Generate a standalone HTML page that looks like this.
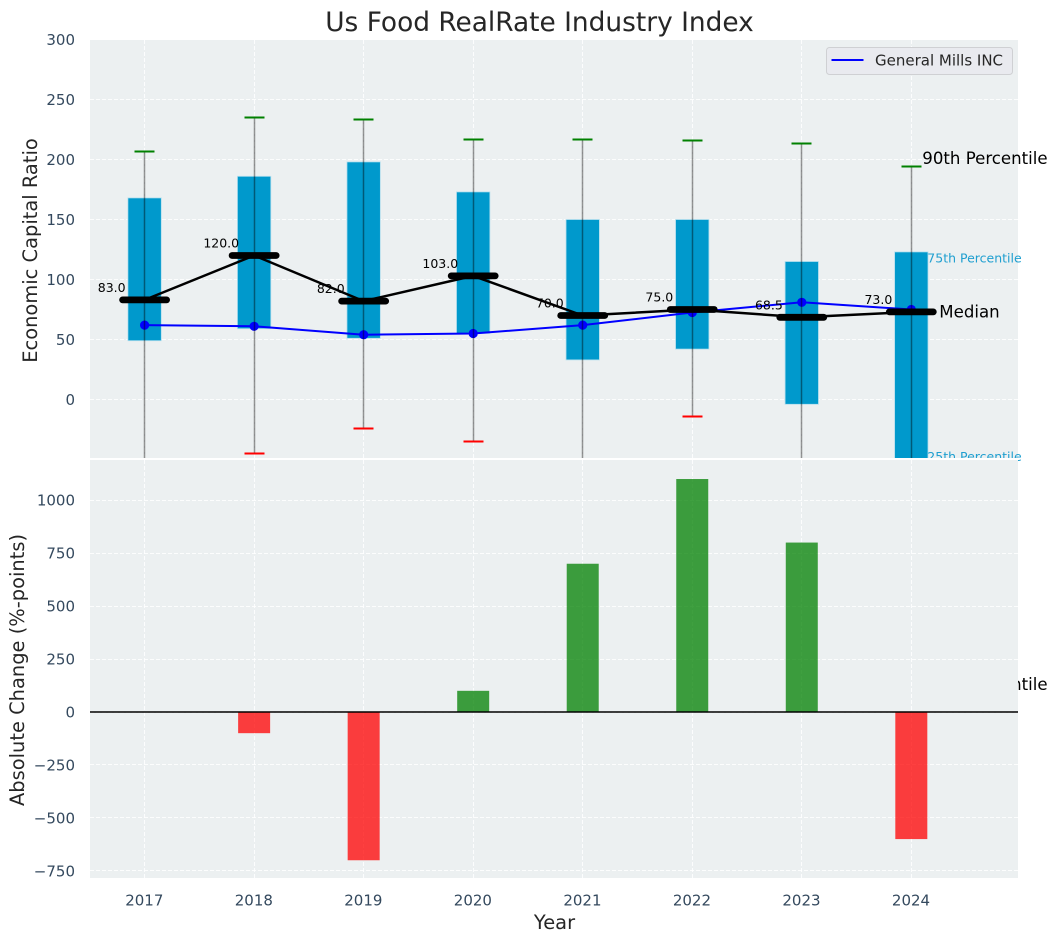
<!DOCTYPE html>
<html lang="en">
<head>
<meta charset="utf-8">
<title>Us Food RealRate Industry Index</title>
<style>
html,body{margin:0;padding:0;background:#fff;width:1057px;height:942px;overflow:hidden}
svg{display:block;font-family:"DejaVu Sans","Liberation Sans",sans-serif}
</style>
</head>
<body>
<svg id="chart" xmlns="http://www.w3.org/2000/svg" width="1057" height="942" viewBox="0 0 1057 942">
  <defs>
    <clipPath id="top-clip"><rect x="90" y="40" width="928" height="418"></rect></clipPath>
    <clipPath id="bottom-clip"><rect x="90" y="460" width="928" height="418"></rect></clipPath>
  </defs>
  <text x="539.5" y="31" text-anchor="middle" font-size="26.4" fill="#262626">Us Food RealRate Industry Index</text>
  <rect x="90" y="40" width="928" height="418" fill="#ecf0f1"></rect>
  <g id="top-grid" clip-path="url(#top-clip)"></g>
  <g id="top-marks" clip-path="url(#top-clip)"></g>
  <g id="top-labels"></g>
  <g>
    <rect x="826.5" y="47.5" width="186" height="27" rx="3" fill="#e9eaef" stroke="#cfd0d3" stroke-width="1"></rect>
    <line x1="831.5" x2="863.5" y1="60" y2="60" stroke="#0000ff" stroke-width="2"></line>
    <text x="875" y="65.5" font-size="15" fill="#262626">General Mills INC</text>
  </g>
  <rect x="90" y="458" width="928" height="2" fill="#ffffff"></rect>
  <rect x="90" y="460" width="928" height="418" fill="#ecf0f1"></rect>
  <g id="bottom-grid" clip-path="url(#bottom-clip)"></g>
  <g id="bottom-marks" clip-path="url(#bottom-clip)"></g>
  <line x1="90" x2="1018" y1="712" y2="712" stroke="#000000" stroke-width="1.5"></line>
  <g id="ticks"></g>
  <text transform="translate(37,250.5) rotate(-90)" text-anchor="middle" font-size="19.45" fill="#262626">Economic Capital Ratio</text>
  <text transform="translate(24,670) rotate(-90)" text-anchor="middle" font-size="19.45" fill="#262626">Absolute Change (%-points)</text>
  <text x="554.5" y="929" text-anchor="middle" font-size="19.45" fill="#262626">Year</text>
</svg>
<script>
const years = [2017, 2018, 2019, 2020, 2021, 2022, 2023, 2024];
const p90 = [207, 235, 233, 217, 217, 216, 213, 194];
const p75 = [168, 186, 198, 173, 150, 150, 115, 123];
const medians = [83, 120, 82, 103, 70, 75, 68.5, 73];
const medianLabels = ['83.0', '120.0', '82.0', '103.0', '70.0', '75.0', '68.5', '73.0'];
const p25 = [49, 59, 51, 55, 33, 42, -4, -50];
const p10 = [-60, -45, -24.5, -35, -60, -14.5, -60, -237];
const company = [62, 61, 54, 55, 62, 72.5, 81, 75];
const changes = [0, -100, -700, 100, 700, 1100, 800, -600];
const upperTicks = [0, 50, 100, 150, 200, 250, 300];
const lowerTicks = [-750, -500, -250, 0, 250, 500, 750, 1000];

const NS = 'http://www.w3.org/2000/svg';
function xPos(year) { return 144.6 + 109.53 * (year - 2017); }
function snap(v) { return Math.floor(v) + 0.5; }
function yTop(v) { return 399.5 - 1.2 * v; }
function yBottom(v) { return 712 - 0.2118 * v; }
function make(tag, attrs, parent) {
  const node = document.createElementNS(NS, tag);
  for (const k in attrs) node.setAttribute(k, attrs[k]);
  parent.appendChild(node);
  return node;
}
const topGrid = document.getElementById('top-grid');
const topMarks = document.getElementById('top-marks');
const topLabels = document.getElementById('top-labels');
const bottomGrid = document.getElementById('bottom-grid');
const bottomMarks = document.getElementById('bottom-marks');
const ticks = document.getElementById('ticks');
const gridStyle = { stroke: '#ffffff', 'stroke-width': 1.1, 'stroke-dasharray': '4 2', 'stroke-opacity': 0.85 };

upperTicks.forEach(function (t) {
  const y = snap(yTop(t));
  const g = make('line', Object.assign({ x1: 90, x2: 1018, y1: y, y2: y }, gridStyle), topGrid);
  
  
  const l = make('text', { x: 75, y: yTop(t) + 5.5, 'text-anchor': 'end', 'font-size': 15, fill: '#34495e' }, ticks);
  l.textContent = String(t);
  
  
});
lowerTicks.forEach(function (t) {
  const y = snap(yBottom(t));
  const g = make('line', Object.assign({ x1: 90, x2: 1018, y1: y, y2: y }, gridStyle), bottomGrid);
  
  
  const l = make('text', { x: 75, y: yBottom(t) + 5.5, 'text-anchor': 'end', 'font-size': 15, fill: '#34495e' }, ticks);
  l.textContent = String(t).replace('-', '\u2212');
  
  
});
years.forEach(function (year) {
  const x = snap(xPos(year));
  const a = make('line', Object.assign({ x1: x, x2: x, y1: 40, y2: 458 }, gridStyle), topGrid);
  
  
  const b = make('line', Object.assign({ x1: x, x2: x, y1: 460, y2: 878 }, gridStyle), bottomGrid);
  
  
  const l = make('text', { x: xPos(year) - 0.3, y: 905.5, 'text-anchor': 'middle', 'font-size': 15, fill: '#34495e' }, ticks);
  l.textContent = String(year);
  
  
});

years.forEach(function (year, i) {
  const x = xPos(year);
  const top = yTop(p75[i]);
  const box = make('rect', { x: x - 16.7, y: top, width: 33.4, height: yTop(p25[i]) - top, fill: '#0099cc', stroke: '#b5dfee', 'stroke-width': 0.8 }, topMarks);
  
  
});

function polyline(values, color, width, parent) {
  const pts = years.map(function (year, i) { return xPos(year) + ',' + yTop(values[i]); }).join(' ');
  return make('polyline', { points: pts, fill: 'none', stroke: color, 'stroke-width': width, 'stroke-linejoin': 'round' }, parent);
}
const companyLine = polyline(company, '#0000ff', 2, topMarks);


years.forEach(function (year, i) {
  const dot = make('circle', { cx: xPos(year), cy: yTop(company[i]), r: 4.6, fill: '#0000ff' }, topMarks);
  
  
});
years.forEach(function (year, i) {
  const x = snap(xPos(year));
  const w = make('line', { x1: x, x2: x, y1: yTop(p90[i]), y2: yTop(p10[i]), stroke: '#000000', 'stroke-opacity': 0.42, 'stroke-width': 1.5 }, topMarks);
  
  
  const hi = make('line', { x1: x - 10, x2: x + 10, y1: snap(yTop(p90[i])), y2: snap(yTop(p90[i])), stroke: '#008000', 'stroke-width': 2 }, topMarks);
  
  
  const lo = make('line', { x1: x - 10, x2: x + 10, y1: snap(yTop(p10[i])), y2: snap(yTop(p10[i])), stroke: '#ff0000', 'stroke-width': 2 }, topMarks);
  
  
});
const medianLine = polyline(medians, '#000000', 2.5, topMarks);


years.forEach(function (year, i) {
  const x = xPos(year);
  const m = make('line', { x1: x - 22, x2: x + 22, y1: yTop(medians[i]), y2: yTop(medians[i]), stroke: '#000000', 'stroke-width': 6.8, 'stroke-linecap': 'round' }, topMarks);
  
  
  const t = make('text', { x: x - 32.9, y: yTop(medians[i]) - 8, 'text-anchor': 'middle', 'font-size': 12.5, fill: '#000000' }, topLabels);
  t.textContent = medianLabels[i];
  
  
});

const lastX = xPos(years[years.length - 1]);
const last = years.length - 1;
const lab90 = make('text', { x: lastX + 11, y: yTop(p90[last]) - 2.5, 'font-size': 16.6, fill: '#000000' }, topLabels);
lab90.textContent = '90th Percentile';


const lab75 = make('text', { x: lastX + 16, y: yTop(p75[last]) + 10.5, 'font-size': 12.5, fill: '#1f9fd0' }, topLabels);
lab75.textContent = '75th Percentile';


const labMed = make('text', { x: lastX + 28, y: yTop(medians[last]) + 5.5, 'font-size': 16.6, fill: '#000000' }, topLabels);
labMed.textContent = 'Median';


const lab25 = make('text', { x: lastX + 16, y: 461, 'font-size': 12.5, fill: '#1f9fd0' }, topLabels);
lab25.textContent = '25th Percentile';


const lab10 = make('text', { x: lastX + 11, y: yTop(p10[last]) + 6, 'font-size': 16.6, fill: '#000000' }, topLabels);
lab10.textContent = '10th Percentile';



years.forEach(function (year, i) {
  if (changes[i] === 0) return;
  const y0 = yBottom(0);
  const y1 = yBottom(changes[i]);
  const bar = make('rect', { x: xPos(year) - 16, y: Math.min(y0, y1), width: 32, height: Math.abs(y1 - y0), fill: changes[i] > 0 ? '#008000' : '#ff0000', 'fill-opacity': 0.75 }, bottomMarks);
  
  
});
</script>
</body>
</html>
